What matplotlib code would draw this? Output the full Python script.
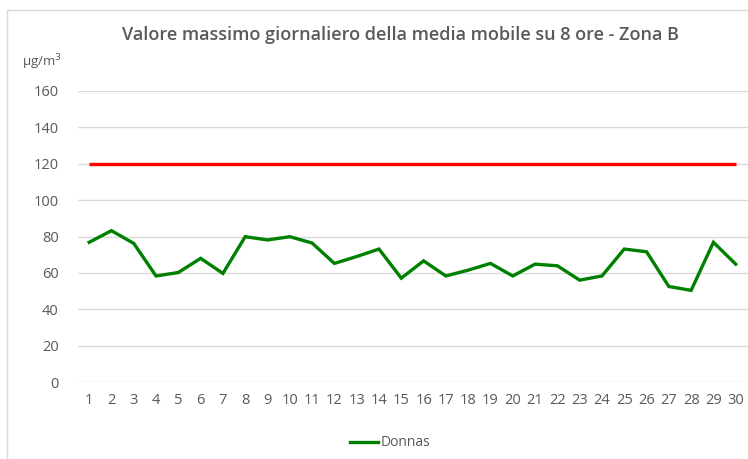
import matplotlib.pyplot as plt
from matplotlib.patches import Rectangle

days = list(range(1, 31))
donnas = [76.8, 83.2, 76.2, 58.3, 60.2, 68.0, 59.7, 79.9, 78.1, 79.9,
          76.4, 65.2, 69.0, 73.1, 57.1, 66.6, 58.3, 61.5, 65.2, 58.3,
          64.8, 63.9, 56.0, 58.3, 73.1, 71.6, 52.5, 50.4, 76.8, 64.8]
limit = [120] * 30
yticks = [0, 20, 40, 60, 80, 100, 120, 140, 160]

plt.rcParams['font.family'] = ['Open Sans', 'DejaVu Sans']
gray = "#595959"

fig = plt.figure(figsize=(7.48, 4.59), dpi=100)
ax = fig.add_axes([78 / 748, 1 - 382 / 459, 670 / 748, 291 / 459])

# chart border (Excel chart area, cropped on right/bottom)
fig.patches.append(Rectangle((7 / 748, -0.5), 2.0, 1.5 - 10 / 459, transform=fig.transFigure,
                             fill=False, edgecolor="#d9d9d9", linewidth=1.0))

ax.plot(days, limit, color="#ff0000", linewidth=2.4, solid_capstyle="butt")
ax.plot(days, donnas, color="#008000", linewidth=2.4, label="Donnas", solid_joinstyle="miter")

ax.set_xlim(0.5, 30.5 + 0.05)
ax.set_ylim(0, 160)
ax.set_yticks(yticks)
ax.set_xticks(days)
ax.set_xticklabels([str(d) for d in days])
ax.grid(axis="y", color="#d9d9d9", linewidth=1.0)
ax.set_axisbelow(True)
for s in ax.spines.values():
    s.set_visible(False)
ax.tick_params(length=0, colors=gray, labelsize=10.5)
ax.tick_params(axis="y", pad=14)
ax.tick_params(axis="x", pad=8)

fig.text(0.5 + 0.035, 1 - 35 / 459, "Valore massimo giornaliero della media mobile su 8 ore - Zona B",
         ha="center", va="center", fontsize=13, color=gray, fontweight="semibold")
fig.text(22 / 748, 1 - 62 / 459, "µg/m$^3$", ha="left", va="center", fontsize=9.5, color=gray)

fig.legend(loc="center", bbox_to_anchor=(390 / 748, 1 - 443 / 459), frameon=False,
           fontsize=10, labelcolor=gray, handlelength=2.0, handletextpad=0.2)

fig.savefig("out.png", dpi=100)
